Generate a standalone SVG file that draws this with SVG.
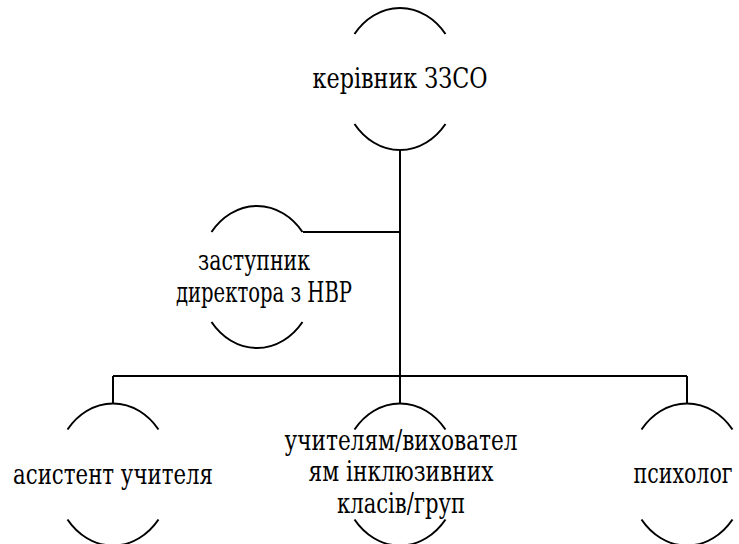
<svg xmlns="http://www.w3.org/2000/svg" width="739" height="544" viewBox="0 0 739 544">
<style>
.arc{fill:none;stroke:#000;stroke-width:2}
.ln{fill:none;stroke:#000;stroke-width:2}
text{font-family:'DejaVu Serif Condensed', 'DejaVu Serif', 'Liberation Serif', serif;font-stretch:condensed;font-size:24px;text-anchor:middle;fill:#000}
</style>
<rect width="739" height="544" fill="#fff"/>
<g id="connectors">
<path class="ln" d="M400 149 V376"/>
<path class="ln" d="M303 232 H400"/>
<path class="ln" d="M113 376 H687"/>
<path class="ln" d="M113 376 V404"/>
<path class="ln" d="M400 376 V404"/>
<path class="ln" d="M687 376 V404"/>
</g>
<g id="n1">
<path class="arc" d="M354.5 34 A58.8 71 0 0 1 445.5 34 M354.5 124 A58.8 71 0 0 0 445.5 124"/>
<text transform="translate(400 88) scale(1 1.15)" textLength="175" lengthAdjust="spacingAndGlyphs">керівник ЗЗСО</text>
</g>
<g id="n2">
<path class="arc" d="M211.5 232 A58.8 71 0 0 1 302.5 232 M211.5 322 A58.8 71 0 0 0 302.5 322"/>
<text transform="translate(254 270) scale(1 1.15)" textLength="112" lengthAdjust="spacingAndGlyphs">заступник</text>
<text transform="translate(264 302) scale(1 1.15)" textLength="176" lengthAdjust="spacingAndGlyphs">директора з НВР</text>
</g>
<g id="n3">
<path class="arc" d="M67.5 429.5 A58.8 71 0 0 1 158.5 429.5 M67.5 519.5 A58.8 71 0 0 0 158.5 519.5"/>
<text transform="translate(113 484) scale(1 1.15)" textLength="200" lengthAdjust="spacingAndGlyphs">асистент учителя</text>
</g>
<g id="n4">
<path class="arc" d="M354.5 429.5 A58.8 71 0 0 1 445.5 429.5 M354.5 519.5 A58.8 71 0 0 0 445.5 519.5"/>
<text transform="translate(401 450) scale(1 1.15)" textLength="233" lengthAdjust="spacingAndGlyphs">учителям/виховател</text>
<text transform="translate(401 481) scale(1 1.15)" textLength="185" lengthAdjust="spacingAndGlyphs">ям інклюзивних</text>
<text transform="translate(401 513) scale(1 1.15)" textLength="128" lengthAdjust="spacingAndGlyphs">класів/груп</text>
</g>
<g id="n5">
<path class="arc" d="M641.5 429.5 A58.8 71 0 0 1 732.5 429.5 M641.5 519.5 A58.8 71 0 0 0 732.5 519.5"/>
<text transform="translate(683 483) scale(1 1.15)" textLength="99" lengthAdjust="spacingAndGlyphs">психолог</text>
</g>
</svg>
